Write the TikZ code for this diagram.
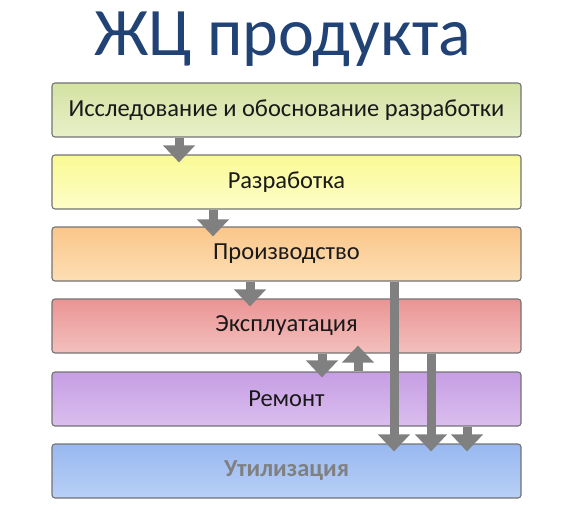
\documentclass[tikz,border=0pt]{standalone}
\usepackage{fontspec}
\setmainfont{Carlito}
\usetikzlibrary{arrows.meta,calc}
\definecolor{titleblue}{RGB}{33,66,116}
\definecolor{arrgray}{RGB}{128,128,128}
\definecolor{bordergray}{RGB}{115,115,115}
\definecolor{gA}{RGB}{212,226,162}\definecolor{gB}{RGB}{232,240,200}
\definecolor{yA}{RGB}{250,250,148}\definecolor{yB}{RGB}{253,253,200}
\definecolor{oA}{RGB}{250,198,138}\definecolor{oB}{RGB}{253,222,180}
\definecolor{rA}{RGB}{234,148,148}\definecolor{rB}{RGB}{243,192,188}
\definecolor{pA}{RGB}{198,158,228}\definecolor{pB}{RGB}{218,190,238}
\definecolor{bA}{RGB}{152,184,240}\definecolor{bB}{RGB}{184,208,246}
\tikzset{
  stagebox/.style={draw=bordergray, line width=1.1pt, rounded corners=3pt,
    minimum width=469pt, minimum height=54pt, inner sep=0pt,
    font=\fontsize{24.5}{27}\selectfont, text=black!90},
  arr/.style={draw=arrgray, line width=9pt,
    -{Triangle[width=31pt,length=17pt]}, arrgray}
}
\begin{document}
\begin{tikzpicture}[x=1pt,y=-1pt]
\useasboundingbox (0,0) rectangle (585,514);
% title
\node[anchor=base, text=titleblue, font=\fontsize{68}{72}\selectfont]
  (title) at (282.5,55) {ЖЦ продукта};
% boxes
\node[stagebox, top color=gA, bottom color=gB] (b1) at (286.5,110) {Исследование и обоснование разработки};
\node[stagebox, top color=yA, bottom color=yB] (b2) at (286.5,182) {Разработка};
\node[stagebox, top color=oA, bottom color=oB] (b3) at (286.5,254) {Производство};
\node[stagebox, top color=rA, bottom color=rB] (b4) at (286.5,326) {Эксплуатация};
\node[stagebox, top color=pA, bottom color=pB] (b5) at (286.5,399) {Ремонт};
\node[stagebox, top color=bA, bottom color=bB, text=arrgray, font=\fontsize{24.5}{27}\selectfont\bfseries] (b6) at (286.5,471) {Утилизация};
% arrows
\draw[arr] ([xshift=-107.5pt]b1.south) -- ([xshift=-107.5pt,yshift=-8pt]b2.north);
\draw[arr] ([xshift=-73.5pt]b2.south) -- ([xshift=-73.5pt,yshift=-10pt]b3.north);
\draw[arr] ([xshift=-36.5pt]b3.south) -- ([xshift=-36.5pt,yshift=-8pt]b4.north);
\draw[arr] ([xshift=35.5pt]b4.south) -- ([xshift=35.5pt,yshift=-6pt]b5.north);
\draw[arr] ([xshift=71.5pt]b5.north) -- ([xshift=71.5pt,yshift=8pt]b4.south);
\draw[arr] ([xshift=107.5pt]b3.south) -- ([xshift=107.5pt,yshift=-8pt]b6.north);
\draw[arr] ([xshift=144.5pt]b4.south) -- ([xshift=144.5pt,yshift=-8pt]b6.north);
\draw[arr] ([xshift=180.5pt]b5.south) -- ([xshift=180.5pt,yshift=-8pt]b6.north);
\end{tikzpicture}
\end{document}
